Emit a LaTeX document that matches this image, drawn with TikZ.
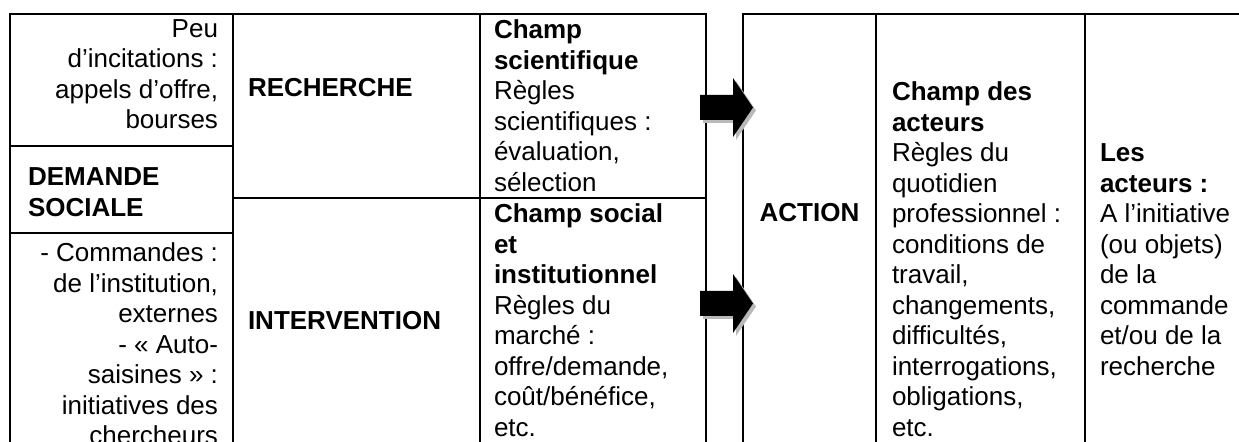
\documentclass[tikz,border=0pt]{standalone}
\usepackage{fontspec}
\setmainfont{Liberation Sans}
\usepackage{tikz}

\tikzset{
  cell/.style={inner sep=0pt, align=left},
  lcell/.style={inner sep=0pt, align=right},
  title/.style={inner sep=0pt, font=\fontsize{13}{15.25}\selectfont\bfseries},
  arrshadow/.style={fill=gray!55},
  arrbody/.style={fill=black}
}

\begin{document}
\begin{tikzpicture}[x=0.5pt, y=-0.5pt, line width=1pt, font=\fontsize{13}{15.25}\selectfont]
      \useasboundingbox (0,0) rectangle (1239,442);
      \clip (0,0) rectangle (1239,442);

      \node[lcell, anchor=north east]                 (PEU)  at (219, 15.15)    {\strut Peu\\d’incitations :\\appels d’offre,\\bourses};
      \node[title, anchor=north west, align=left]     (DS)   at (27, 163.65)    {\strut DEMANDE\\SOCIALE};
      \node[lcell, anchor=north east]                 (CMD)  at (219, 239.65)   {\strut - Commandes :\\de l’institution,\\externes\\- «~Auto-\\saisines~» :\\initiatives des\\chercheurs};

      \node[title, anchor=base west]                  (REC)  at (247, 97)       {RECHERCHE};
      \node[title, anchor=base west]                  (INT)  at (247, 330)      {INTERVENTION};

      \node[cell, anchor=north west]                  (CS)   at (493, 16.65)    {\strut\textbf{Champ}\\\textbf{scientifique}\\Règles\\scientifiques :\\évaluation,\\sélection};
      \node[cell, anchor=north west]                  (CSI)  at (493, 200.65)   {\strut\textbf{Champ social}\\\textbf{et}\\\textbf{institutionnel}\\Règles du\\marché :\\offre/demande,\\coût/bénéfice,\\etc.};

      \node[title, anchor=base]                       (ACT)  at (809.5, 222)    {ACTION};
      \node[cell, anchor=north west]                  (CA)   at (891, 78.65)    {\strut\textbf{Champ des}\\\textbf{acteurs}\\Règles du\\quotidien\\professionnel :\\conditions de\\travail,\\changements,\\difficultés,\\interrogations,\\obligations,\\etc.};
      \node[cell, anchor=north west]                  (LA)   at (1099, 139.65)  {\strut\textbf{Les}\\\textbf{acteurs :}\\A l’initiative\\(ou objets)\\de la\\commande\\et/ou de la\\recherche};

      \draw (10,460) -- (10,14) -- (706,14) -- (706,460);
      \draw (233,14) -- (233,460);
      \draw (480,14) -- (480,460);
      \draw (10,146) -- (233,146);
      \draw (10,233) -- (233,233);
      \draw (233,198) -- (706,198);

      \draw (743,460) -- (743,14) -- (1250,14);
      \draw (876,14) -- (876,460);
      \draw (1085,14) -- (1085,460);

      \foreach \ay in {107.5, 303.5} {
        \fill[arrshadow] (703,{\ay-9.5}) -- (736,{\ay-9.5}) -- (736,{\ay-26.5}) -- (756,{\ay+3}) -- (736,{\ay+32.5}) -- (736,{\ay+15.5}) -- (703,{\ay+15.5}) -- cycle;
        \fill[arrbody]   (700,{\ay-12.5}) -- (733,{\ay-12.5}) -- (733,{\ay-29.5}) -- (753,{\ay}) -- (733,{\ay+29.5}) -- (733,{\ay+12.5}) -- (700,{\ay+12.5}) -- cycle;
      }
    \end{tikzpicture}
\end{document}
